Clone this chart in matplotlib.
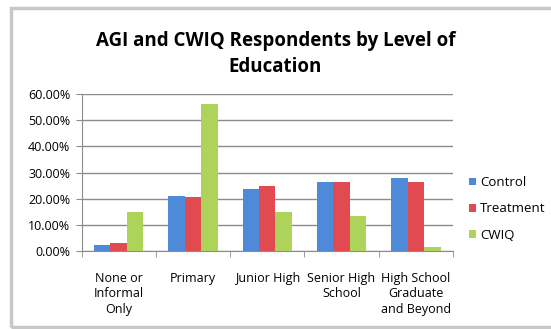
import matplotlib.pyplot as plt
import numpy as np
from matplotlib.patches import Rectangle
from matplotlib.ticker import FuncFormatter

categories = ["None or\nInformal\nOnly", "Primary", "Junior High",
              "Senior High\nSchool", "High School\nGraduate\nand Beyond"]
control = [0.022, 0.210, 0.237, 0.264, 0.278]
treatment = [0.032, 0.205, 0.250, 0.264, 0.265]
cwiq = [0.149, 0.562, 0.148, 0.135, 0.017]

series = ["Control", "Treatment", "CWIQ"]
colors = ["#4f8ad8", "#e04a50", "#aed35a"]

plt.rcParams["font.family"] = ["Open Sans", "DejaVu Sans"]

fig = plt.figure(figsize=(5.51, 3.29), dpi=100)
fig.patches.append(Rectangle((0.02, 0.006), 1.0, 0.969, transform=fig.transFigure,
                             fill=False, edgecolor="#c8c8c8", linewidth=2.5))

ax = fig.add_axes([0.148, 0.237, 0.674, 0.477])
x = np.arange(len(categories))
w = 0.222
for i, (vals, c, name) in enumerate(zip([control, treatment, cwiq], colors, series)):
    ax.bar(x + (i - 1) * w, vals, w, color=c, label=name, zorder=3)

ax.set_xlim(-0.5, len(categories) - 0.5)
ax.set_ylim(0, 0.6)
ax.set_yticks(np.arange(0, 0.61, 0.1))
ax.yaxis.set_major_formatter(FuncFormatter(lambda v, p: f"{v * 100:.2f}%"))
ax.grid(axis="y", color="#8c8c8c", linewidth=1, zorder=0)
ax.set_xticks(x)
ax.set_xticklabels(categories, fontsize=9, linespacing=1.25)
ax.set_xticks(np.arange(-0.5, len(categories)), minor=True)
ax.tick_params(axis="x", which="major", length=0, pad=15)
ax.tick_params(axis="x", which="minor", length=4, color="#8c8c8c")
ax.tick_params(axis="y", length=4, color="#8c8c8c", labelsize=9, pad=4)
for s in ["top", "right"]:
    ax.spines[s].set_visible(False)
ax.spines["left"].set_color("#8c8c8c")
ax.spines["bottom"].set_color("#8c8c8c")

ax.legend(loc="upper left", bbox_to_anchor=(1.03, 0.51), frameon=False,
          fontsize=9.5, handlelength=0.5, handleheight=0.5, handletextpad=0.3,
          labelspacing=1.0, borderaxespad=0)

fig.text(0.5, 0.836, "AGI and CWIQ Respondents by Level of\nEducation",
         ha="center", va="center", fontsize=13.5, fontweight="bold", linespacing=1.45)

fig.savefig("out.png", dpi=100)
